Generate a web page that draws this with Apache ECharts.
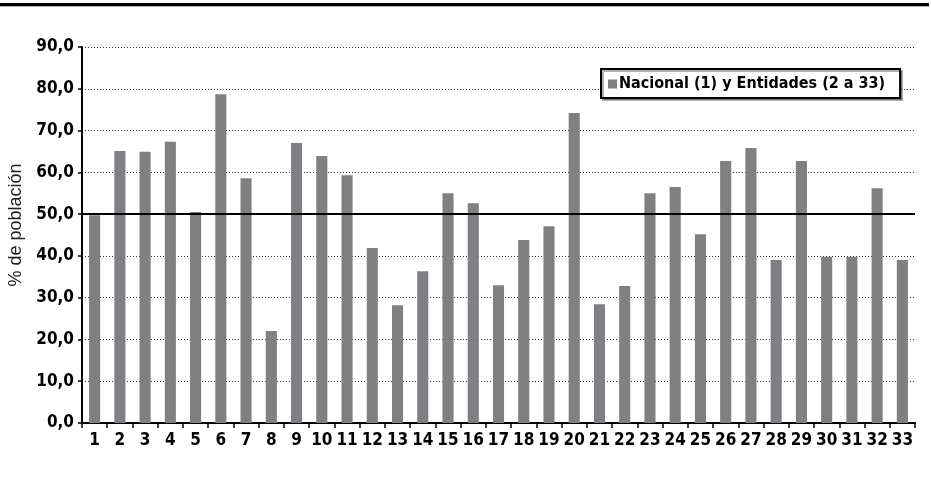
<!DOCTYPE html>
<html>
<head>
<meta charset="utf-8">
<script src="https://cdn.jsdelivr.net/npm/echarts@6/dist/echarts.min.js"></script>
<style>
html,body{margin:0;padding:0;background:#fff;}
#chart{width:931px;height:477px;}
</style>
</head>
<body>
<div id="chart"></div>
<script>
const categories = ['1','2','3','4','5','6','7','8','9','10','11','12','13','14','15','16','17','18','19','20','21','22','23','24','25','26','27','28','29','30','31','32','33'];
const values = [49.7,65.1,64.9,67.3,50.5,78.7,58.6,22.0,67.0,63.9,59.3,41.9,28.2,36.3,55.0,52.6,33.0,43.8,47.1,74.2,28.4,32.8,55.0,56.5,45.2,62.7,65.8,39.0,62.7,39.8,39.8,56.2,39.0];
const seriesName = 'Nacional (1) y Entidades (2 a 33)';
const yAxisName = '% de población';
const referenceValue = 50;
const yMin = 0, yMax = 90, yStep = 10;

const FONT = '"Liberation Sans Narrow", "DejaVu Sans Condensed", "Arial Narrow", sans-serif';
const chart = echarts.init(document.getElementById('chart'));
chart.setOption({
  animation: false,
  backgroundColor: '#fff',
  grid: {left: 82, right: 16, top: 47, bottom: 54, containLabel: false, outerBoundsMode: 'none'},
  graphic: [
    {type: 'rect', shape: {x: 0, y: 3, width: 929, height: 3}, style: {fill: '#000'}},
    {type: 'rect', shape: {x: 0, y: 6, width: 929, height: 1}, style: {fill: '#aaa'}}
  ],
  legend: {
    left: 601, top: 69,
    itemWidth: 9, itemHeight: 9, itemGap: 0,
    padding: [7, 15, 6, 7],
    borderColor: '#000', borderWidth: 2,
    backgroundColor: '#fff',
    shadowColor: 'rgba(0,0,0,0.3)', shadowOffsetX: 2, shadowOffsetY: 2, shadowBlur: 0,
    icon: 'rect',
    textStyle: {fontFamily: FONT, fontWeight: 'bold', fontSize: 16, color: '#000', padding: [0,0,0,-3]},
    data: [seriesName]
  },
  xAxis: {
    type: 'category',
    data: categories,
    axisLine: {lineStyle: {color: '#000', width: 2}},
    axisTick: {show: true, length: 5, lineStyle: {color: '#000', width: 1.5}},
    axisLabel: {fontFamily: FONT, fontWeight: 'bold', fontSize: 17, color: '#000', margin: 9, interval: 0}
  },
  yAxis: {
    type: 'value',
    min: yMin, max: yMax, interval: yStep,
    name: yAxisName,
    nameLocation: 'middle',
    nameGap: 57,
    nameRotate: 90,
    nameTextStyle: {fontFamily: '"Liberation Sans", Arial, sans-serif', fontSize: 18, color: '#222', padding: [0, 0, 0, 20]},
    axisLine: {show: true, lineStyle: {color: '#000', width: 2}},
    axisTick: {show: true, length: 4, lineStyle: {color: '#000', width: 1.5}},
    axisLabel: {fontFamily: FONT, fontWeight: 'bold', fontSize: 17, color: '#000', margin: 8,
      formatter: v => v.toFixed(1).replace('.', ',')},
    splitLine: {show: true, lineStyle: {color: '#333', type: [1, 2], width: 1}}
  },
  series: [{
    name: seriesName,
    type: 'bar',
    data: values,
    barWidth: '44%',
    itemStyle: {color: '#808084'},
    markLine: {
      silent: true,
      symbol: 'none',
      label: {show: false},
      lineStyle: {color: '#000', width: 2, type: 'solid'},
      data: [{yAxis: referenceValue}]
    }
  }]
});
</script>
</body>
</html>
